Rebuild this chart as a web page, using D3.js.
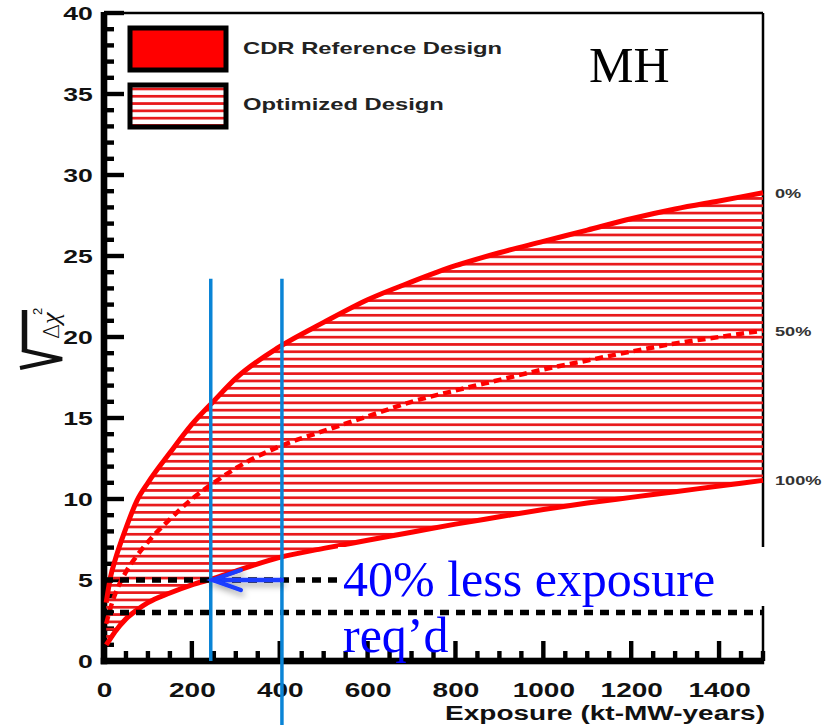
<!DOCTYPE html>
<html>
<head>
<meta charset="utf-8">
<script src="https://cdn.jsdelivr.net/npm/d3@7"></script>
<style>
  body { margin: 0; background: #fff; }
</style>
</head>
<body>
<svg id="chart" width="833" height="725"></svg>
<script>
// exposure (kt-MW-years) and sqrt(delta chi2) for the three curves
const exposure = [5, 15, 25, 50, 75, 100, 150, 200, 250, 300, 400, 500, 600, 700, 800, 900, 1000, 1100, 1200, 1300, 1400, 1500]
const sigma0   = [3.6, 5.2, 6.2, 8.2, 9.9, 11.0, 12.85, 14.6, 16.05, 17.45, 19.4, 20.9, 22.3, 23.4, 24.4, 25.2, 25.9, 26.6, 27.3, 27.9, 28.4, 28.9]
const sigma50  = [2.3, 3.3, 4.1, 5.5, 6.5, 7.35, 8.75, 10.0, 11.0, 11.9, 13.25, 14.2, 15.1, 16.0, 16.7, 17.35, 18.0, 18.55, 19.1, 19.6, 20.0, 20.4]
const sigma100 = [1.0, 1.4, 1.8, 2.6, 3.15, 3.6, 4.2, 4.7, 5.1, 5.55, 6.4, 6.95, 7.45, 7.95, 8.45, 8.9, 9.35, 9.75, 10.1, 10.45, 10.8, 11.15]

const curveLabels = ['0%', '50%', '100%']
const legendLabels = ['CDR Reference Design', 'Optimized Design']
const xTicks = [0, 200, 400, 600, 800, 1000, 1200, 1400]
const yTicks = [0, 5, 10, 15, 20, 25, 30, 35, 40]
const xMinor = d3.range(0, 1501, 50)
const yMinor = d3.range(0, 41, 1)
const thresholds = [5, 3]
const guideExposure = [243, 405]
const guideBottom = [0, -4]
const guideTop = 23.6
const arrowFrom = [405, 5]
const arrowTo = [243, 5]
const noteLines = ['40% less exposure', 'req\u2019d']

const svg = d3.select('#chart')
const red = '#ff0000'
const stretch = 'scale(1.4,1)'
const fontSans = '"Liberation Sans", Arial, sans-serif'

const x = d3.scaleLinear().domain([0, 1500]).range([104, 763])
const y = d3.scaleLinear().domain([0, 40]).range([661, 13])

const defs = svg.append('defs')
defs.append('pattern')
  .attr('id', 'hatch')
  .attr('patternUnits', 'userSpaceOnUse')
  .attr('width', 10).attr('height', 7.3)
  .append('rect')
    .attr('width', 10).attr('height', 2.7)
    .attr('fill', '#e8191b')
const shadow = defs.append('filter').attr('id', 'shadow')
  .attr('x', '-20%').attr('y', '-50%').attr('width', '140%').attr('height', '200%')
shadow.append('feDropShadow')
  .attr('dx', 2).attr('dy', 4).attr('stdDeviation', 3)
  .attr('flood-color', '#000').attr('flood-opacity', 0.35)

// frame top and right
svg.append('line')
  .attr('x1', x(0)).attr('x2', x(1500)).attr('y1', y(40)).attr('y2', y(40))
  .attr('stroke', '#000').attr('stroke-width', 2.5)
svg.append('line')
  .attr('x1', x(1500)).attr('x2', x(1500)).attr('y1', y(40)).attr('y2', y(0))
  .attr('stroke', '#000').attr('stroke-width', 2.5)

// axis labels from d3 axes, tick marks drawn as solid blocks
const yAxis = svg.append('g').attr('transform', `translate(${x(0)},0)`)
  .call(d3.axisLeft(y).tickValues(yTicks).tickSize(0).tickPadding(8))
const xAxis = svg.append('g').attr('transform', `translate(0,${y(0)})`)
  .call(d3.axisBottom(x).tickValues(xTicks).tickFormat(d3.format('d'))
    .tickSize(0).tickPadding(22))
svg.selectAll('.domain').remove()
yAxis.selectAll('text').attr('font-size', 19)
xAxis.selectAll('text').attr('font-size', 20)
svg.selectAll('.tick text')
  .attr('font-family', fontSans).attr('font-weight', 'bold').attr('fill', '#111')
  .attr('transform', stretch)

const ink = svg.append('g').attr('fill', '#000')
ink.selectAll('.ymark')
  .data(yMinor)
  .join('rect')
    .attr('class', 'ymark')
    .attr('x', x(0))
    .attr('y', d => y(d) - 2.2)
    .attr('width', d => d % 5 === 0 ? 20 : 10)
    .attr('height', 4.4)
ink.selectAll('.xmark')
  .data(xMinor)
  .join('rect')
    .attr('class', 'xmark')
    .attr('x', d => x(d) - 2.2)
    .attr('y', d => y(0) - (d % 200 === 0 ? 20 : 10))
    .attr('width', 4.4)
    .attr('height', d => d % 200 === 0 ? 20 : 10)
ink.append('rect')
  .attr('x', x(0) - 3.3).attr('y', y(40) - 1)
  .attr('width', 6.6).attr('height', y(0) - y(40) + 4.3)
ink.append('rect')
  .attr('x', x(0) - 3.3).attr('y', y(0) - 3.3)
  .attr('width', x(1500) - x(0) + 4.5).attr('height', 6.6)

// band between 0% and 100%
const rows = exposure.map((e, i) => ({ e, hi: sigma0[i], mid: sigma50[i], lo: sigma100[i] }))

svg.append('path')
  .datum(rows)
  .attr('fill', 'url(#hatch)')
  .attr('d', d3.area().curve(d3.curveMonotoneX)
    .x(d => x(d.e)).y0(d => y(d.lo)).y1(d => y(d.hi)))

const line = key => d3.line().curve(d3.curveMonotoneX).x(d => x(d.e)).y(d => y(d[key]))

svg.append('path').datum(rows)
  .attr('fill', 'none').attr('stroke', red).attr('stroke-width', 5)
  .attr('d', line('hi'))
svg.append('path').datum(rows)
  .attr('fill', 'none').attr('stroke', red).attr('stroke-width', 5)
  .attr('d', line('lo'))
svg.append('path').datum(rows)
  .attr('fill', 'none').attr('stroke', red).attr('stroke-width', 4.5)
  .attr('stroke-dasharray', '8 5')
  .attr('d', line('mid'))

// percent labels at the curve ends
const ends = [sigma0, sigma50, sigma100].map(s => s[s.length - 1])
svg.selectAll('.pct')
  .data(curveLabels)
  .join('text')
    .attr('class', 'pct')
    .attr('transform', (d, i) => `translate(775,${y(ends[i]) + 5}) ${stretch}`)
    .attr('font-family', fontSans).attr('font-weight', 'bold')
    .attr('font-size', 13).attr('fill', '#333')
    .text(d => d)

// black dashed thresholds
svg.selectAll('.thr')
  .data(thresholds)
  .join('line')
    .attr('class', 'thr')
    .attr('x1', x(0)).attr('x2', x(1500))
    .attr('y1', d => y(d)).attr('y2', d => y(d))
    .attr('stroke', '#000').attr('stroke-width', 5.5)
    .attr('stroke-dasharray', '9 7')

// blue guide lines
svg.selectAll('.guide')
  .data(guideExposure)
  .join('line')
    .attr('class', 'guide')
    .attr('x1', d => x(d)).attr('x2', d => x(d))
    .attr('y1', y(guideTop))
    .attr('y2', (d, i) => y(guideBottom[i]))
    .attr('stroke', '#0a84d6').attr('stroke-width', 3.5)

// arrow
const ax0 = x(arrowFrom[0]), ax1 = x(arrowTo[0]), ay = y(arrowTo[1])
const arrow = svg.append('g').attr('filter', 'url(#shadow)')
  .attr('stroke', '#1a3cff').attr('stroke-width', 4.5).attr('fill', 'none')
  .attr('stroke-linecap', 'round')
arrow.append('line').attr('x1', ax0).attr('x2', ax1 + 2).attr('y1', ay).attr('y2', ay)
arrow.append('path').attr('d', `M${ax1 + 30},${ay - 10} L${ax1 + 2},${ay} L${ax1 + 30},${ay + 10}`)

// text box covering the lower right
svg.append('rect')
  .attr('x', 338).attr('y', 547).attr('width', 435).attr('height', 59)
  .attr('fill', '#fff')

svg.selectAll('.note')
  .data(noteLines)
  .join('text')
    .attr('class', 'note')
    .attr('x', 343)
    .attr('y', (d, i) => 596 + i * 56)
    .attr('font-family', '"Liberation Serif", "Times New Roman", serif')
    .attr('font-size', 50)
    .attr('fill', '#0000ff')
    .text(d => d)

// legend
const legend = svg.append('g')
legend.selectAll('rect')
  .data(legendLabels)
  .join('rect')
    .attr('x', 130).attr('y', (d, i) => 28 + i * 57)
    .attr('width', 96).attr('height', 42)
    .attr('fill', (d, i) => i === 0 ? red : 'url(#hatch)')
    .attr('stroke', '#000').attr('stroke-width', 5)
legend.selectAll('text')
  .data(legendLabels)
  .join('text')
    .attr('transform', (d, i) => `translate(243,${54 + i * 56}) ${stretch}`)
    .attr('font-family', fontSans).attr('font-weight', 'bold')
    .attr('font-size', 17).attr('fill', '#222')
    .text(d => d)

svg.append('text')
  .attr('x', 589).attr('y', 82)
  .attr('font-family', '"Liberation Serif", "Times New Roman", serif')
  .attr('font-size', 50).attr('fill', '#000')
  .text('MH')

// axis titles
svg.append('text')
  .attr('transform', `translate(765,720) ${stretch}`)
  .attr('text-anchor', 'end')
  .attr('font-family', fontSans).attr('font-weight', 'bold')
  .attr('font-size', 20).attr('fill', '#111')
  .text('Exposure (kt-MW-years)')

// sqrt(delta chi^2), rotated
const ylab = svg.append('g').attr('transform', 'translate(42,340) rotate(-90)')
ylab.append('path')
  .attr('d', 'M-28,-22 L-19,20 L-10,-20')
  .attr('fill', 'none').attr('stroke', '#111').attr('stroke-width', 4)
  .attr('stroke-linejoin', 'miter')
ylab.append('line')
  .attr('x1', -11).attr('x2', 30).attr('y1', -17.5).attr('y2', -17.5)
  .attr('stroke', '#111').attr('stroke-width', 5.5)
ylab.append('text')
  .attr('x', 1).attr('y', 17)
  .attr('font-family', '"DejaVu Sans", sans-serif').attr('font-weight', 300)
  .attr('font-size', 22).attr('fill', '#111')
  .text('\u0394')
ylab.append('text')
  .attr('x', 16).attr('y', 17)
  .attr('font-family', '"Liberation Serif", serif').attr('font-style', 'italic')
  .attr('font-size', 26).attr('fill', '#111')
  .text('\u03c7')
ylab.append('text')
  .attr('x', 25).attr('y', 0)
  .attr('font-family', fontSans)
  .attr('font-size', 13).attr('fill', '#111')
  .text('2')
</script>
</body>
</html>
